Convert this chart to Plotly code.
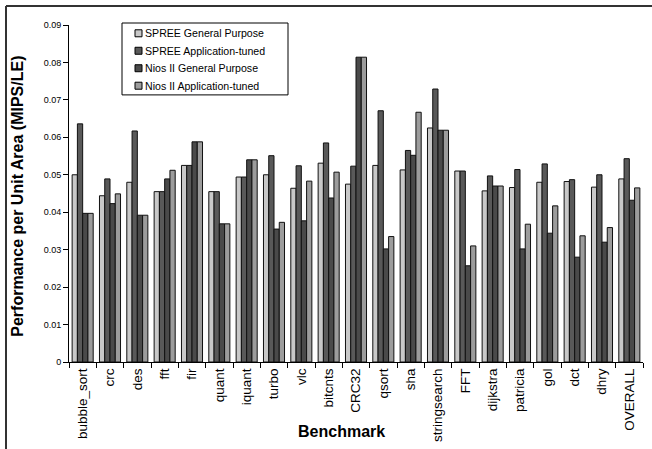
import plotly.graph_objects as go

benchmarks = ["bubble_sort", "crc", "des", "fft", "fir", "quant", "iquant", "turbo", "vlc",
              "bitcnts", "CRC32", "qsort", "sha", "stringsearch", "FFT", "dijkstra",
              "patricia", "gol", "dct", "dhry", "OVERALL"]

spree_gp = [0.0500, 0.0444, 0.0480, 0.0455, 0.0525, 0.0455, 0.0494, 0.0500, 0.0464,
            0.0531, 0.0475, 0.0525, 0.0513, 0.0625, 0.0510, 0.0457, 0.0466, 0.0480,
            0.0482, 0.0467, 0.0489]
spree_at = [0.0636, 0.0489, 0.0617, 0.0455, 0.0525, 0.0455, 0.0494, 0.0551, 0.0524,
            0.0585, 0.0523, 0.0671, 0.0565, 0.0729, 0.0510, 0.0497, 0.0514, 0.0529,
            0.0487, 0.0500, 0.0543]
nios_gp = [0.0397, 0.0423, 0.0392, 0.0489, 0.0588, 0.0369, 0.0540, 0.0355, 0.0377,
           0.0438, 0.0814, 0.0302, 0.0552, 0.0619, 0.0257, 0.0470, 0.0302, 0.0344,
           0.0280, 0.0320, 0.0432]
nios_at = [0.0397, 0.0449, 0.0392, 0.0512, 0.0588, 0.0369, 0.0540, 0.0373, 0.0483,
           0.0507, 0.0814, 0.0335, 0.0667, 0.0619, 0.0310, 0.0470, 0.0368, 0.0417,
           0.0337, 0.0359, 0.0465]

series_names = ["SPREE General Purpose", "SPREE Application-tuned",
                "Nios II General Purpose", "Nios II Application-tuned"]
series_values = [spree_gp, spree_at, nios_gp, nios_at]
series_colors = ["#c8c8c8", "#595959", "#4a4a4a", "#9c9c9c"]

W, H = 652, 449
L, R, T, B = 69, 9, 25, 86.5
PW, PH = W - L - R, H - T - B


def px(x):
    return (x - L) / PW


def py(y):
    return (H - B - y) / PH


FONT = "Liberation Sans, Arial, sans-serif"

fig = go.Figure()
for name, vals, col in zip(series_names, series_values, series_colors):
    fig.add_trace(go.Bar(
        x=benchmarks, y=vals, name=name, showlegend=False,
        marker=dict(color=col, line=dict(color="#111111", width=1)),
    ))

shapes = [
    # outer frame (left and top)
    dict(type="line", xref="paper", yref="paper",
         x0=px(6), x1=px(W + 5), y0=py(6), y1=py(6), line=dict(color="#333333", width=2)),
    dict(type="line", xref="paper", yref="paper",
         x0=px(6), x1=px(6), y0=py(6), y1=py(H + 5), line=dict(color="#333333", width=2)),
    # legend box
    dict(type="rect", xref="paper", yref="paper",
         x0=px(122), x1=px(288), y0=py(23), y1=py(95),
         line=dict(color="black", width=1), fillcolor="white", layer="above"),
]
annotations = []
row_y = [33.3, 50.8, 68.3, 85.8]
for name, col, ry in zip(series_names, series_colors, row_y):
    shapes.append(dict(type="rect", xref="paper", yref="paper",
                       x0=px(135), x1=px(142), y0=py(ry - 3.5), y1=py(ry + 3.5),
                       line=dict(color="black", width=1), fillcolor=col, layer="above"))
    annotations.append(dict(xref="paper", yref="paper", x=px(143), y=py(ry),
                            xanchor="left", yanchor="middle", showarrow=False,
                            text=name, font=dict(size=10.6, family=FONT, color="black")))

annotations.append(dict(xref="paper", yref="paper", x=px(341), y=py(432),
                        xanchor="center", yanchor="middle", showarrow=False,
                        text="<b>Benchmark</b>", font=dict(size=16, family=FONT, color="black")))
annotations.append(dict(xref="paper", yref="paper", x=px(18), y=py(197),
                        xanchor="center", yanchor="middle", showarrow=False, textangle=-90,
                        text="<b>Performance per Unit Area (MIPS/LE)</b>",
                        font=dict(size=16, family=FONT, color="black")))

fig.update_layout(
    width=W, height=H,
    margin=dict(l=L, r=R, t=T, b=B, autoexpand=False),
    paper_bgcolor="white", plot_bgcolor="white",
    barmode="group", bargap=0.23, bargroupgap=0,
    font=dict(family=FONT, size=9, color="black"),
    showlegend=False,
    xaxis=dict(
        automargin=False,
        showline=True, linecolor="black", linewidth=1,
        ticks="outside", ticklen=5, tickcolor="black", tickson="boundaries",
        tickangle=-90, tickfont=dict(size=13.5, family=FONT, color="black"),
        showgrid=False, zeroline=False,
    ),
    yaxis=dict(
        automargin=False,
        range=[0, 0.09], dtick=0.01, tick0=0,
        showline=True, linecolor="black", linewidth=1,
        ticks="outside", ticklen=5, tickcolor="black",
        tickfont=dict(size=9, family=FONT, color="black"),
        showgrid=False, zeroline=False,
    ),
    shapes=shapes,
    annotations=annotations,
)

fig.write_html("out.html")
